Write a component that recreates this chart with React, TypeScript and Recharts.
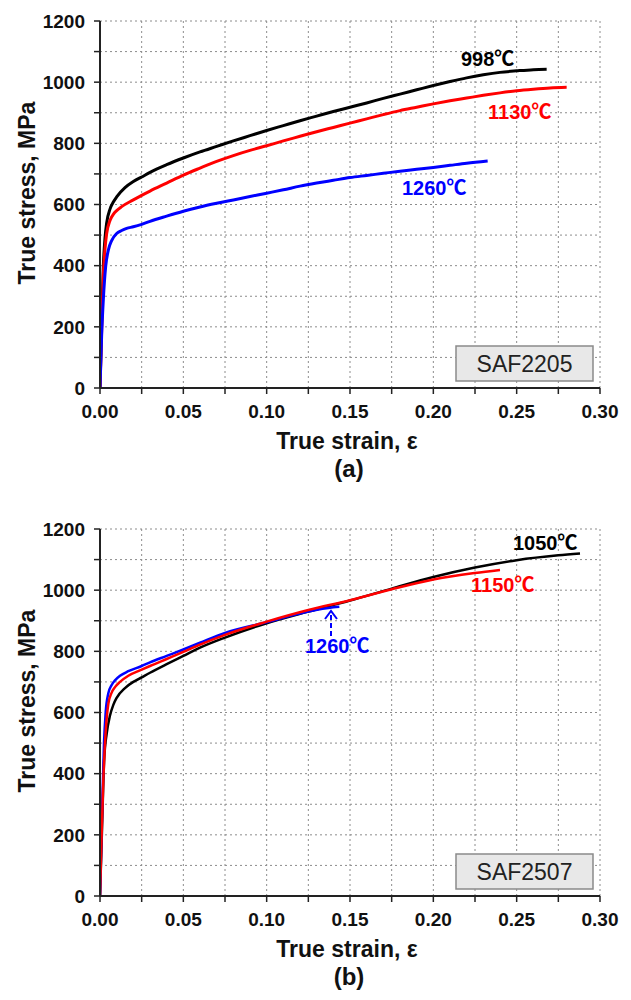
import React from 'react';
import { LineChart, Line, XAxis, YAxis, CartesianGrid } from 'recharts';

// (a) SAF2205
const a998Strain = [0, 0.001, 0.002, 0.003, 0.004, 0.006, 0.008, 0.01, 0.015, 0.02, 0.025, 0.03, 0.04, 0.05, 0.06, 0.07, 0.08, 0.09, 0.1, 0.11, 0.12, 0.13, 0.14, 0.15, 0.16, 0.17, 0.18, 0.19, 0.2, 0.21, 0.22, 0.23, 0.24, 0.25, 0.26, 0.268];
const a998Stress = [0, 220, 400, 490, 540, 585, 608, 625, 655, 675, 690, 705, 730, 752, 772, 790, 808, 825, 842, 858, 874, 889, 904, 918, 932, 947, 961, 975, 989, 1002, 1014, 1024, 1032, 1037, 1041, 1042];

const a1130Strain = [0, 0.001, 0.002, 0.003, 0.004, 0.006, 0.008, 0.01, 0.013, 0.02, 0.025, 0.03, 0.04, 0.05, 0.06, 0.07, 0.08, 0.09, 0.1, 0.11, 0.12, 0.13, 0.14, 0.15, 0.16, 0.17, 0.18, 0.19, 0.2, 0.21, 0.22, 0.23, 0.24, 0.25, 0.26, 0.27, 0.28];
const a1130Stress = [0, 190, 370, 455, 505, 548, 568, 580, 593, 615, 630, 644, 670, 696, 719, 741, 760, 777, 792, 808, 823, 838, 852, 866, 880, 894, 907, 918, 929, 939, 948, 957, 965, 972, 977, 981, 983];

const a1260Strain = [0, 0.001, 0.002, 0.0034, 0.005, 0.007, 0.01, 0.013, 0.016, 0.02, 0.025, 0.03, 0.04, 0.05, 0.06, 0.07, 0.08, 0.09, 0.1, 0.11, 0.12, 0.13, 0.14, 0.15, 0.16, 0.17, 0.18, 0.19, 0.2, 0.21, 0.22, 0.2326];
const a1260Stress = [0, 175, 290, 397, 451, 482, 505, 515, 522, 527, 535, 545, 562, 578, 592, 604, 615, 626, 637, 648, 660, 670, 679, 688, 695, 702, 709, 715, 721, 728, 735, 742];

// (b) SAF2507
const b1050Strain = [0, 0.001, 0.0025, 0.004, 0.006, 0.008, 0.01, 0.015, 0.02, 0.025, 0.03, 0.04, 0.05, 0.06, 0.075, 0.1, 0.125, 0.15, 0.175, 0.2, 0.225, 0.25, 0.275, 0.288];
const b1050Stress = [0, 180, 445, 530, 590, 625, 648, 680, 700, 715, 730, 758, 785, 812, 845, 892, 930, 966, 1005, 1043, 1074, 1098, 1114, 1120];

const b1150Strain = [0, 0.001, 0.002, 0.003, 0.004, 0.005, 0.007, 0.009, 0.012, 0.017, 0.025, 0.03, 0.04, 0.05, 0.06, 0.075, 0.1, 0.125, 0.15, 0.175, 0.2, 0.225, 0.24];
const b1150Stress = [0, 200, 380, 500, 580, 628, 665, 683, 700, 720, 740, 752, 775, 798, 822, 854, 897, 935, 967, 1003, 1035, 1056, 1066];

const b1260Strain = [0, 0.001, 0.0024, 0.0034, 0.005, 0.007, 0.009, 0.012, 0.017, 0.025, 0.03, 0.04, 0.05, 0.06, 0.075, 0.1, 0.125, 0.14, 0.1436];
const b1260Stress = [0, 220, 500, 600, 663, 690, 705, 720, 735, 752, 764, 785, 806, 828, 860, 895, 930, 944, 946];

const strainTicks = [0, 0.025, 0.05, 0.075, 0.1, 0.125, 0.15, 0.175, 0.2, 0.225, 0.25, 0.275, 0.3];
const stressTicks = [0, 100, 200, 300, 400, 500, 600, 700, 800, 900, 1000, 1100, 1200];

const zip = (xs: number[], ys: number[]) => xs.map((x, i) => ({ x, y: ys[i] }));

const TICK_FONT = "'Liberation Sans', Arial, sans-serif";
const NOTE_FONT = "'Liberation Sans', 'Noto Sans CJK KR', sans-serif";

interface Series {
  name: string;
  color: string;
  data: { x: number; y: number }[];
}

const panelA: Series[] = [
  { name: '998', color: '#000000', data: zip(a998Strain, a998Stress) },
  { name: '1130', color: '#ff0000', data: zip(a1130Strain, a1130Stress) },
  { name: '1260', color: '#0000ff', data: zip(a1260Strain, a1260Stress) },
];

const panelB: Series[] = [
  { name: '1050', color: '#000000', data: zip(b1050Strain, b1050Stress) },
  { name: '1260', color: '#0000ff', data: zip(b1260Strain, b1260Stress) },
  { name: '1150', color: '#ff0000', data: zip(b1150Strain, b1150Stress) },
];

const tickStyle = { fontFamily: TICK_FONT, fontSize: 19, fontWeight: 700, fill: '#111' };

const StressChart: React.FC<{ series: Series[]; width: number }> = ({ series, width }) => (
  <LineChart width={631} height={508} margin={{ top: 21, right: 31, left: 0, bottom: 0 }}>
    <CartesianGrid stroke="#8c8c8c" strokeDasharray="2 3" />
    <XAxis
      type="number"
      dataKey="x"
      domain={[0, 0.3]}
      ticks={strainTicks}
      interval={0}
      height={120}
      tickSize={6}
      tickMargin={11}
      tick={tickStyle}
      tickFormatter={(v: number) => (Math.round(v * 1000) % 50 === 0 ? v.toFixed(2) : '')}
      axisLine={{ stroke: '#222', strokeWidth: 2 }}
      tickLine={{ stroke: '#222', strokeWidth: 1.5 }}
      allowDataOverflow
    />
    <XAxis
      xAxisId="top"
      orientation="top"
      type="number"
      domain={[0, 0.3]}
      height={0}
      tick={false}
      tickLine={false}
      axisLine={{ stroke: '#222', strokeWidth: 1.5 }}
    />
    <YAxis
      type="number"
      domain={[0, 1200]}
      ticks={stressTicks}
      interval={0}
      width={100}
      tickSize={6}
      tickMargin={9}
      tick={tickStyle}
      tickFormatter={(v: number) => (v % 200 === 0 ? String(v) : '')}
      axisLine={{ stroke: '#222', strokeWidth: 2 }}
      tickLine={{ stroke: '#222', strokeWidth: 1.5 }}
      allowDataOverflow
    />
    <YAxis
      yAxisId="right"
      orientation="right"
      type="number"
      domain={[0, 1200]}
      width={0}
      tick={false}
      tickLine={false}
      axisLine={{ stroke: '#444', strokeWidth: 2 }}
    />
    {series.map((s) => (
      <Line
        key={s.name}
        data={s.data}
        dataKey="y"
        type="monotone"
        stroke={s.color}
        strokeWidth={width}
        dot={false}
        activeDot={false}
        isAnimationActive={false}
      />
    ))}
  </LineChart>
);

const titleStyle = { fontFamily: TICK_FONT, fontSize: 23, fontWeight: 700, fill: '#111' };
const noteStyle = { fontFamily: NOTE_FONT, fontSize: 20, fontWeight: 700 };
const boxText = { fontFamily: TICK_FONT, fontSize: 23, fill: '#222' };

const PanelText: React.FC<{ dy: number; caption: string; grade: string }> = ({ dy, caption, grade }) => (
  <g transform={`translate(0, ${dy})`}>
    <text x={347} y={448.5} textAnchor="middle" style={titleStyle}>True strain, ε</text>
    <text transform="translate(35, 193) rotate(-90)" textAnchor="middle" style={titleStyle}>True stress, MPa</text>
    <text x={349} y={477} textAnchor="middle" style={{ ...titleStyle, fontSize: 24 }}>{caption}</text>
    <rect x={456} y={346} width={137} height={35} fill="#e8e8e8" stroke="#8a8a8a" strokeWidth={1.5} />
    <text x={524.5} y={372} textAnchor="middle" style={boxText}>{grade}</text>
  </g>
);

export default function App() {
  return (
    <div style={{ position: 'absolute', left: 0, top: 0, width: 631, height: 1000, background: '#fff' }}>
      <div style={{ position: 'absolute', left: 0, top: 0 }}>
        <StressChart series={panelA} width={3} />
      </div>
      <div style={{ position: 'absolute', left: 0, top: 508 }}>
        <StressChart series={panelB} width={2.5} />
      </div>
      <svg width={631} height={1000} style={{ position: 'absolute', left: 0, top: 0, pointerEvents: 'none' }}>
        <PanelText dy={0} caption="(a)" grade="SAF2205" />
        <PanelText dy={508} caption="(b)" grade="SAF2507" />
        <text x={461} y={66} style={{ ...noteStyle, fill: '#000' }}>998℃</text>
        <text x={488} y={119} style={{ ...noteStyle, fill: '#ff0000' }}>1130℃</text>
        <text x={402} y={195} style={{ ...noteStyle, fill: '#0000ff' }}>1260℃</text>
        <text x={513} y={550} style={{ ...noteStyle, fill: '#000' }}>1050℃</text>
        <text x={471} y={592} style={{ ...noteStyle, fill: '#ff0000' }}>1150℃</text>
        <text x={305} y={653} style={{ ...noteStyle, fill: '#0000ff' }}>1260℃</text>
        <line x1={331} y1={636} x2={331} y2={612} stroke="#0000ff" strokeWidth={2} strokeDasharray="5 3" />
        <polyline points="325,619 331,611 337,619" fill="none" stroke="#0000ff" strokeWidth={2} />
      </svg>
    </div>
  );
}
